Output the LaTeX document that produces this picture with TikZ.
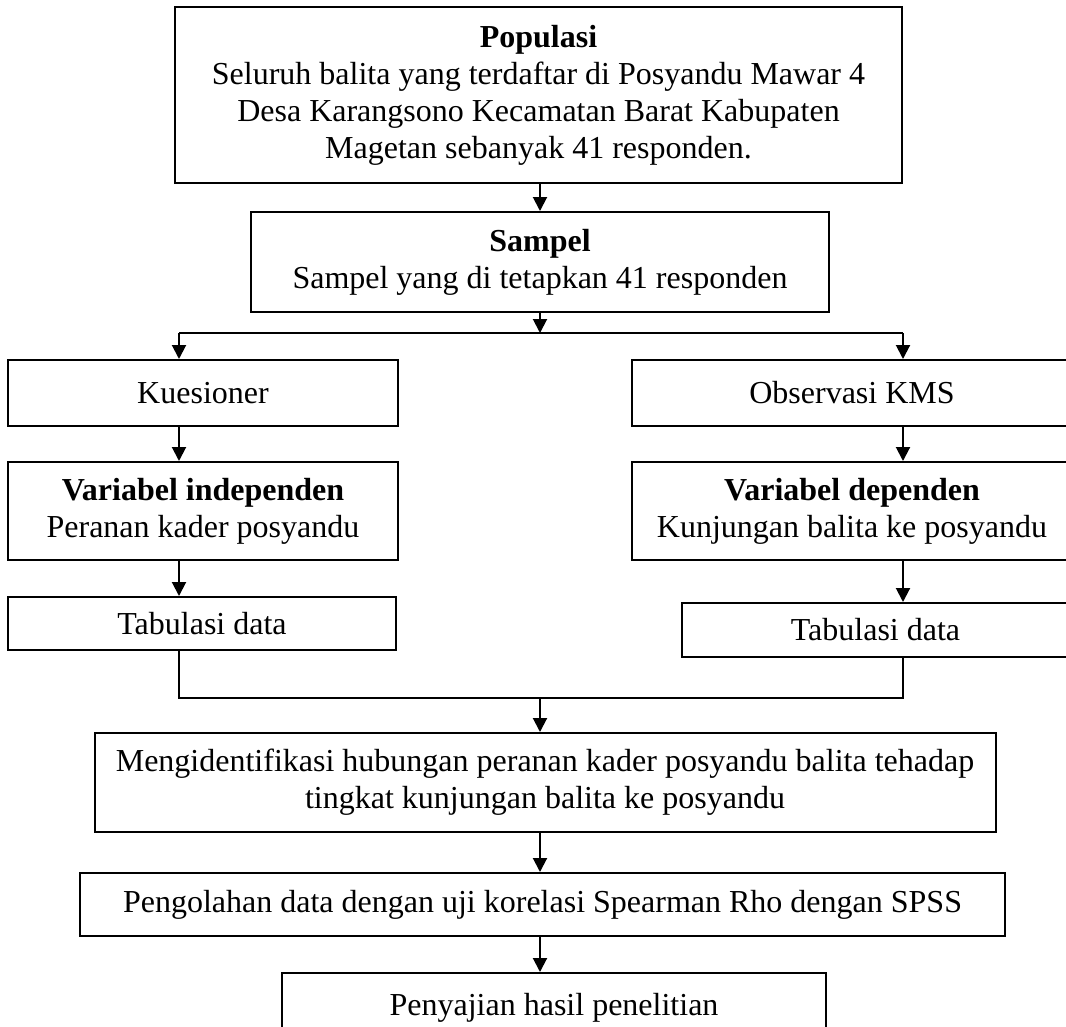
\documentclass[tikz,border=0pt]{standalone}
\usepackage{fontspec}
\setmainfont{Liberation Serif}
\usetikzlibrary{arrows.meta}

\begin{document}
\begin{tikzpicture}[x=1pt,y=-1pt,
   font=\fontsize{32}{37}\selectfont,
   box/.style={draw,line width=2pt,inner sep=0pt,align=center},
   link/.style={line width=2pt},
   arr/.style={link,-{Triangle[length=14pt,width=14pt]}}]

\useasboundingbox (0,0) rectangle (1066,1026);
\clip (0,0) rectangle (1066,1026);

\node[box,minimum width=727,minimum height=176] (pop) at (538.5,95)
   {\textbf{Populasi}\\Seluruh balita yang terdaftar di Posyandu Mawar 4\\
    Desa Karangsono Kecamatan Barat Kabupaten\\Magetan sebanyak 41 responden.};
\node[box,minimum width=578,minimum height=100] (samp) at (540,262)
   {\textbf{Sampel}\\Sampel yang di tetapkan 41 responden};
\node[box,minimum width=390,minimum height=66] (kues) at (203,393) {Kuesioner};
\node[box,minimum width=440,minimum height=66] (obs) at (852,393) {Observasi KMS};
\node[box,minimum width=390,minimum height=98] (indep) at (203,511)
   {\textbf{Variabel independen}\\Peranan kader posyandu};
\node[box,minimum width=440,minimum height=98] (dep) at (852,511)
   {\textbf{Variabel dependen}\\Kunjungan balita ke posyandu};
\node[box,minimum width=388,minimum height=53] (tabl) at (202,623.5) {Tabulasi data};
\node[box,minimum width=387,minimum height=54] (tabr) at (875.5,630) {Tabulasi data};
\node[box,minimum width=901,minimum height=99] (ident) at (545,782.5)
   {Mengidentifikasi hubungan peranan kader posyandu balita tehadap\\
    tingkat kunjungan balita ke posyandu};
\node[box,minimum width=925,minimum height=63] (olah) at (542.5,904.5)
   {Pengolahan data dengan uji korelasi Spearman Rho dengan SPSS};
\node[box,minimum width=544,minimum height=70] (saji) at (554,1008)
   {Penyajian hasil penelitian};

\coordinate (bl) at (179,333);
\coordinate (br) at (903,333);
\coordinate (bm) at (540,333);
\coordinate (jl) at (179,698);
\coordinate (jr) at (903,698);
\coordinate (jm) at (540,698);

\draw[arr] (pop.south -| samp.north) -- (samp.north);
\draw[arr] (samp.south) -- (bm);
\draw[link] (bl) -- (br);
\draw[arr] (bl) -- (bl |- kues.north);
\draw[arr] (br) -- (br |- obs.north);
\draw[arr] (bl |- kues.south) -- (bl |- indep.north);
\draw[arr] (bl |- indep.south) -- (bl |- tabl.north);
\draw[arr] (br |- obs.south) -- (br |- dep.north);
\draw[arr] (br |- dep.south) -- (br |- tabr.north);
\draw[link] (bl |- tabl.south) -- (jl) -- (jr) -- (br |- tabr.south);
\draw[arr] (jm) -- (jm |- ident.north);
\draw[arr] (jm |- ident.south) -- (jm |- olah.north);
\draw[arr] (jm |- olah.south) -- (jm |- saji.north);

\end{tikzpicture}
\end{document}
